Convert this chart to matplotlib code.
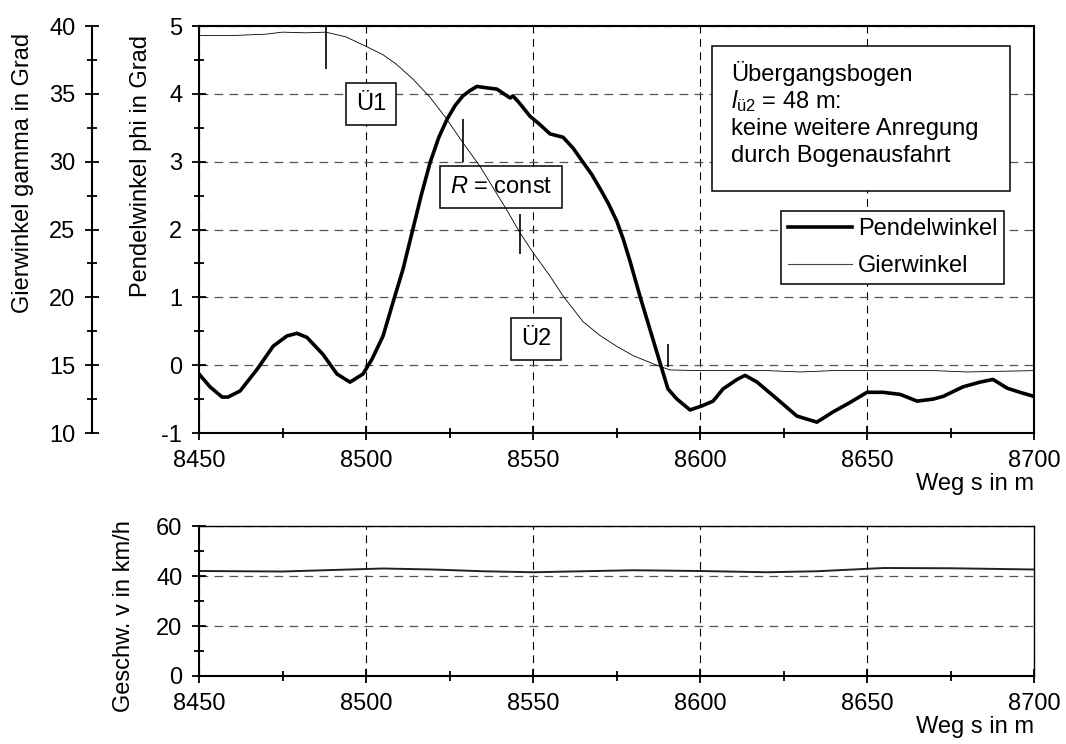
import matplotlib
matplotlib.use('Agg')
import matplotlib.pyplot as plt
from matplotlib.lines import Line2D
from matplotlib.patches import Rectangle
from matplotlib.ticker import MultipleLocator

plt.rcParams['font.family'] = ['Liberation Sans', 'DejaVu Sans']
plt.rcParams['font.size'] = 17
plt.rcParams['axes.unicode_minus'] = False
plt.rcParams['mathtext.fontset'] = 'custom'
plt.rcParams['mathtext.rm'] = 'Liberation Sans'
plt.rcParams['mathtext.it'] = 'Liberation Sans:italic'

# Pendelwinkel phi [Grad] over Weg s [m]
s_phi = [8450, 8453.3, 8456.9, 8458.7, 8462.3, 8467.4, 8472.2, 8476.3, 8479.3,
         8482.3, 8487.1, 8491.3, 8495.2, 8499.1, 8501.8, 8505.1, 8508.1, 8511.1,
         8513.8, 8516.5, 8519.2, 8521.8, 8524.3, 8526.7, 8529.0, 8531.2, 8533.2,
         8536, 8539.2, 8542.2, 8543.2, 8544, 8546, 8549.1, 8552, 8555.1, 8559,
         8562, 8565, 8567.6, 8570.1, 8572.6, 8575.1, 8577, 8579, 8582, 8585,
         8588, 8590.4, 8593.1, 8597, 8600.6, 8603.9, 8606.9, 8611.1, 8613.5,
         8617.1, 8623.1, 8629, 8635, 8639.8, 8644.9, 8650, 8654.8, 8659.9,
         8665, 8669.8, 8672.8, 8678.7, 8683.8, 8687.7, 8692, 8695.8, 8700]
phi = [-0.13, -0.32, -0.47, -0.47, -0.38, -0.06, 0.28, 0.43, 0.47,
       0.41, 0.16, -0.13, -0.25, -0.13, 0.09, 0.43, 0.93, 1.42,
       1.96, 2.50, 2.99, 3.36, 3.63, 3.83, 3.97, 4.05, 4.11,
       4.09, 4.07, 3.97, 3.94, 3.97, 3.86, 3.67, 3.55, 3.41, 3.36,
       3.20, 2.99, 2.81, 2.60, 2.38, 2.12, 1.86, 1.54, 1.02, 0.53,
       0.04, -0.35, -0.50, -0.66, -0.60, -0.53, -0.35, -0.21, -0.15,
       -0.25, -0.50, -0.75, -0.84, -0.69, -0.55, -0.40, -0.40, -0.43,
       -0.53, -0.50, -0.46, -0.32, -0.25, -0.21, -0.34, -0.40, -0.46]

# Gierwinkel gamma [Grad]
s_gam = [8450, 8460, 8470, 8475, 8482, 8488, 8494, 8500, 8505, 8509, 8514,
         8519, 8524, 8529, 8534, 8538, 8542, 8546, 8550, 8555, 8559, 8565,
         8570, 8575, 8580, 8587, 8591, 8600, 8610, 8620, 8630, 8640, 8650,
         8660, 8670, 8680, 8690, 8700]
gamma = [39.3, 39.3, 39.4, 39.55, 39.5, 39.55, 39.2, 38.5, 37.9, 37.2, 36.1,
         34.8, 33.2, 31.4, 29.7, 28.1, 26.5, 24.8, 23.3, 21.6, 20.1, 18.2,
         17.2, 16.4, 15.7, 15.0, 14.65, 14.6, 14.6, 14.6, 14.5, 14.6, 14.6,
         14.6, 14.6, 14.5, 14.55, 14.6]

# Geschwindigkeit v [km/h]
s_v = [8450, 8475, 8490, 8505, 8520, 8535, 8550, 8565, 8580, 8600, 8620,
       8635, 8655, 8675, 8700]
v = [42.0, 41.8, 42.4, 43.0, 42.6, 41.9, 41.5, 41.9, 42.3, 42.0, 41.5,
     41.9, 43.2, 43.1, 42.6]

# section marks on the Gierwinkel curve (phi units)
mark_s = [8488, 8529, 8546, 8590.5]
mark_lo = [4.37, 2.99, 1.64, -0.03]
mark_hi = [4.99, 3.63, 2.23, 0.31]

labels = [('Ü1', 8501.5, 3.85), ('$\\mathit{R}$ = const', 8540.4, 2.63),
          ('Ü2', 8550.9, 0.38)]

fig = plt.figure(figsize=(10.66, 7.44), dpi=100)
ax = fig.add_axes([0.1867, 0.418, 0.7833, 0.547])
axv = fig.add_axes([0.1867, 0.0914, 0.7833, 0.2016])


def style(a):
    a.tick_params(which='major', direction='inout', length=10, width=1.3,
                  pad=7)
    a.tick_params(which='minor', direction='inout', length=7, width=1.3)
    for sp in a.spines.values():
        sp.set_linewidth(1.5)
    a.grid(True, axis='x', color='black', lw=0.8, ls=(0, (7, 5)))
    a.grid(True, axis='y', color='#555555', lw=0.9, ls=(0, (7, 5)))
    a.set_axisbelow(True)
    a.set_xlim(8450, 8700)
    a.xaxis.set_major_locator(MultipleLocator(50))
    a.xaxis.set_minor_locator(MultipleLocator(25))
    a.set_xlabel('Weg s in m', loc='right', labelpad=1)


style(ax)
style(axv)

# main plot
ax.plot(s_phi, phi, color='black', lw=2.6, zorder=3)
ax.vlines(mark_s, mark_lo, mark_hi, color='black', lw=1.2, zorder=3)
ax.set_ylim(-1, 5)
ax.yaxis.set_major_locator(MultipleLocator(1))
ax.yaxis.set_minor_locator(MultipleLocator(0.5))
ax.set_ylabel('Pendelwinkel phi in Grad', loc='top')
ax.yaxis.set_label_coords(-0.056, 0.978)

for txt, xs, ys in labels:
    ax.text(xs, ys, txt, ha='center', va='center', zorder=4,
            bbox=dict(boxstyle='square,pad=0.42', fc='white', ec='black',
                      lw=1.1))

ax.add_patch(Rectangle((0.614, 0.595), 0.357, 0.356, transform=ax.transAxes,
                       fc='white', ec='black', lw=1.1, zorder=4))
lines = ['Übergangsbogen', '$\\mathit{l}_{\\mathrm{ü2}}$ = 48 m:',
         'keine weitere Anregung', 'durch Bogenausfahrt']
for i, t in enumerate(lines):
    ax.text(0.637, 0.865 - i * 0.066, t, transform=ax.transAxes,
            ha='left', va='baseline', zorder=5)

# Gierwinkel on its own left axis
ax2 = ax.twinx()
ax2.plot(s_gam, gamma, color='black', lw=0.6)
ax2.set_ylim(10, 40)
ax2.yaxis.tick_left()
ax2.yaxis.set_label_position('left')
ax2.spines['left'].set_position(('axes', -0.128))
for k in ('right', 'top', 'bottom'):
    ax2.spines[k].set_visible(False)
ax2.spines['left'].set_linewidth(1.5)
ax2.yaxis.set_major_locator(MultipleLocator(5))
ax2.yaxis.set_minor_locator(MultipleLocator(2.5))
ax2.tick_params(which='major', direction='inout', length=10, width=1.3, pad=7)
ax2.tick_params(which='minor', direction='inout', length=7, width=1.3)
ax2.set_ylabel('Gierwinkel gamma in Grad', loc='top')
ax2.yaxis.set_label_coords(-0.198, 0.983)

handles = [Line2D([], [], color='black', lw=2.6),
           Line2D([], [], color='#444444', lw=0.8)]
leg = ax2.legend(handles, ['Pendelwinkel', 'Gierwinkel'], loc='upper left',
                 bbox_to_anchor=(0.697, 0.545), borderaxespad=0,
                 fancybox=False, edgecolor='black', framealpha=1,
                 handlelength=2.7, handletextpad=0.25, labelspacing=0.62,
                 borderpad=0.3)
leg.get_frame().set_linewidth(1.1)

# speed plot
axv.plot(s_v, v, color='#222222', lw=1.4)
axv.set_ylim(0, 60)
axv.yaxis.set_major_locator(MultipleLocator(20))
axv.yaxis.set_minor_locator(MultipleLocator(10))
axv.set_ylabel('Geschw. v in km/h', loc='bottom')
axv.yaxis.set_label_coords(-0.077, -0.24)
axv.spines['top'].set_linewidth(1.0)
axv.spines['right'].set_linewidth(1.0)

fig.savefig('out.png', dpi=100)
